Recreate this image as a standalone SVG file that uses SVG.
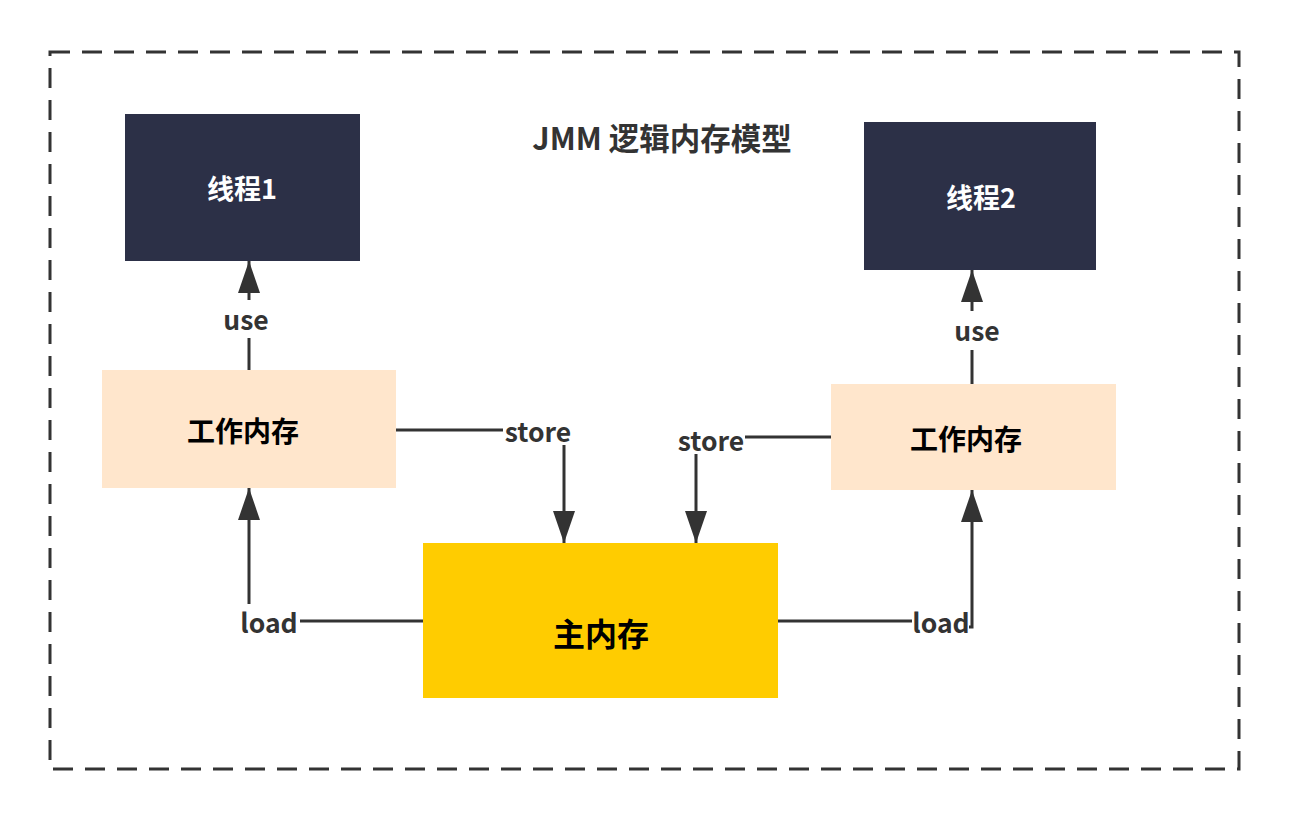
<svg xmlns="http://www.w3.org/2000/svg" width="1290" height="818" viewBox="0 0 1290 818">
<defs>
<style>
text{font-family:"Microsoft YaHei","Noto Sans CJK SC","Noto Sans",sans-serif;font-weight:bold;text-anchor:middle;dominant-baseline:central}
.lbl{font-size:26.5px;fill:#333333}
.edge{stroke:#333333;stroke-width:3;fill:none}
</style>
<marker id="ah" viewBox="0 0 32 22" refX="32" refY="11" markerWidth="32" markerHeight="22" markerUnits="userSpaceOnUse" orient="auto">
<path d="M0,0 L32,11 L0,22 Z" fill="#333333"/>
</marker>
</defs>
<rect width="1290" height="818" fill="#ffffff"/>
<rect x="50" y="52" width="1189" height="717" fill="none" stroke="#333333" stroke-width="3" stroke-dasharray="20 12"/>
<text x="662" y="137" style="font-size:30.5px;fill:#333333">JMM 逻辑内存模型</text>
<g id="thread1"><rect x="125" y="114" width="235" height="147" fill="#2c3047"/><text x="242" y="187" style="font-size:27px;fill:#ffffff">线程1</text></g>
<g id="thread2"><rect x="864" y="122" width="232" height="148" fill="#2c3047"/><text x="981" y="196" style="font-size:27px;fill:#ffffff">线程2</text></g>
<g id="work1"><rect x="102" y="370" width="294" height="118" fill="#ffe6cc"/><text x="243" y="430" style="font-size:28px;fill:#000000">工作内存</text></g>
<g id="work2"><rect x="831" y="384" width="285" height="106" fill="#ffe6cc"/><text x="966" y="438" style="font-size:28px;fill:#000000">工作内存</text></g>
<g id="main"><rect x="423" y="543" width="355" height="155" fill="#ffcc00"/><text x="601" y="632" style="font-size:32px;fill:#000000">主内存</text></g>
<g id="connectors">
<path class="edge" d="M249,370 L249,338" />
<path class="edge" d="M249,300 L249,261" marker-end="url(#ah)"/>
<text class="lbl" x="246" y="318">use</text>
<path class="edge" d="M972,384 L972,350"/>
<path class="edge" d="M972,311 L972,270" marker-end="url(#ah)"/>
<text class="lbl" x="977" y="329">use</text>
<path class="edge" d="M396,430 L503,430"/>
<text class="lbl" x="538" y="430">store</text>
<path class="edge" d="M564,445 L564,543" marker-end="url(#ah)"/>
<path class="edge" d="M831,437 L745,437"/>
<text class="lbl" x="711" y="439">store</text>
<path class="edge" d="M696,454 L696,543" marker-end="url(#ah)"/>
<path class="edge" d="M423,621 L300,621"/>
<text class="lbl" x="269" y="621">load</text>
<path class="edge" d="M249,604 L249,488" marker-end="url(#ah)"/>
<path class="edge" d="M778,621 L912,621"/>
<text class="lbl" x="941" y="621">load</text>
<path class="edge" d="M969,627 L972,627 L972,490" marker-end="url(#ah)"/>
</g>
</svg>
